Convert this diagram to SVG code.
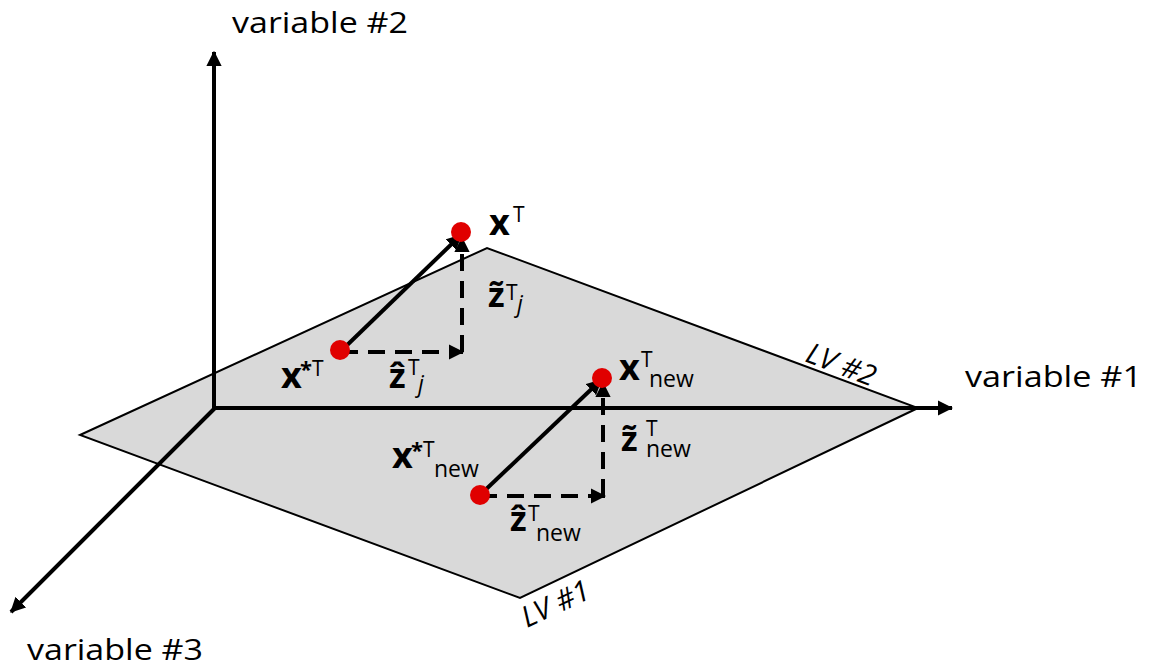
<svg xmlns="http://www.w3.org/2000/svg" width="1151" height="670" viewBox="0 0 1151 670">
<style>
text{font-family:"Open Sans","Liberation Sans",sans-serif;fill:#000}
.lbl{font-size:30px}
.lv{font-size:29px;font-style:italic}
.m{font-size:36px;font-weight:bold}
.z{font-size:34px;font-weight:bold}
.s{font-size:21px;font-weight:normal}
.n{font-size:23px;font-weight:normal}
.st{font-size:22px;font-weight:bold}
.ax{stroke:#000;stroke-width:4;fill:none}
.v{stroke:#000;stroke-width:4;fill:none}
.d{stroke:#000;stroke-width:4;fill:none;stroke-dasharray:17,10}
.pt{fill:#e00000}
</style>
<defs>
<marker id="ah" markerWidth="3.8" markerHeight="3.8" refX="3.5" refY="1.9" orient="auto" markerUnits="strokeWidth">
<path d="M0,0 L3.8,1.9 L0,3.8 z" fill="#000"/>
</marker>
</defs>
<g id="plane">
<polygon points="80,435 487,248 918,408 520,598" fill="#d9d9d9" stroke="#000" stroke-width="2"/>
</g>
<g id="connectors">
<line class="ax" x1="214" y1="410" x2="214" y2="52" marker-end="url(#ah)"/>
<line class="ax" x1="212" y1="408" x2="952" y2="408" marker-end="url(#ah)"/>
<line class="ax" x1="215" y1="408" x2="11" y2="612" marker-end="url(#ah)"/>
<line class="v" x1="341" y1="351" x2="461" y2="235" marker-end="url(#ah)"/>
<path class="d" d="M341,352 H463" marker-end="url(#ah)"/>
<path class="d" d="M462,352 V238" marker-end="url(#ah)"/>
<line class="v" x1="480" y1="495" x2="601" y2="380" marker-end="url(#ah)"/>
<path class="d" d="M480,496 H605" marker-end="url(#ah)"/>
<path class="d" d="M603,496 V383" marker-end="url(#ah)"/>
</g>
<g id="points">
<circle class="pt" cx="461" cy="232" r="10"/>
<circle class="pt" cx="340" cy="350" r="10"/>
<circle class="pt" cx="602" cy="378" r="10"/>
<circle class="pt" cx="480" cy="495" r="10"/>
</g>
<g id="axis-labels">
<text class="lbl" x="232" y="33" textLength="176" lengthAdjust="spacingAndGlyphs">variable #2</text>
<text class="lbl" x="965" y="387" textLength="177" lengthAdjust="spacingAndGlyphs">variable #1</text>
<text class="lbl" x="27" y="660" textLength="176" lengthAdjust="spacingAndGlyphs">variable #3</text>
<text class="lv" transform="translate(804,361) rotate(21)">LV #2</text>
<text class="lv" transform="translate(527,628) rotate(-25)">LV #1</text>
</g>
<g id="label-xT"><text class="m" x="489" y="235">x</text><text class="s" x="513" y="222">T</text></g>
<g id="label-xstarT"><text class="m" x="281" y="388">x</text><text class="st" x="300" y="377">*</text><text class="s" x="312" y="376">T</text></g>
<g id="label-zhat-j"><text class="z" x="389" y="388">ẑ</text><text class="s" x="408" y="375">T</text><text class="n" x="418" y="392" font-style="italic">j</text></g>
<g id="label-ztilde-j"><text class="z" x="488" y="307">z̃</text><text class="s" x="506" y="300">T</text><text class="n" x="517" y="312" font-style="italic">j</text></g>
<g id="label-xT-new"><text class="m" x="619" y="380">x</text><text class="s" x="641" y="367">T</text><text class="n" x="649" y="387">new</text></g>
<g id="label-ztilde-new"><text class="z" x="621" y="451">z̃</text><text class="s" x="646" y="436">T</text><text class="n" x="646" y="457">new</text></g>
<g id="label-xstarT-new"><text class="m" font-size="31" x="392" y="468">x</text><text class="st" x="411" y="458">*</text><text class="s" x="423" y="457">T</text><text class="n" x="434" y="477">new</text></g>
<g id="label-zhat-new"><text class="z" x="510" y="531">ẑ</text><text class="s" x="528" y="521">T</text><text class="n" x="536" y="541">new</text></g>
</svg>
